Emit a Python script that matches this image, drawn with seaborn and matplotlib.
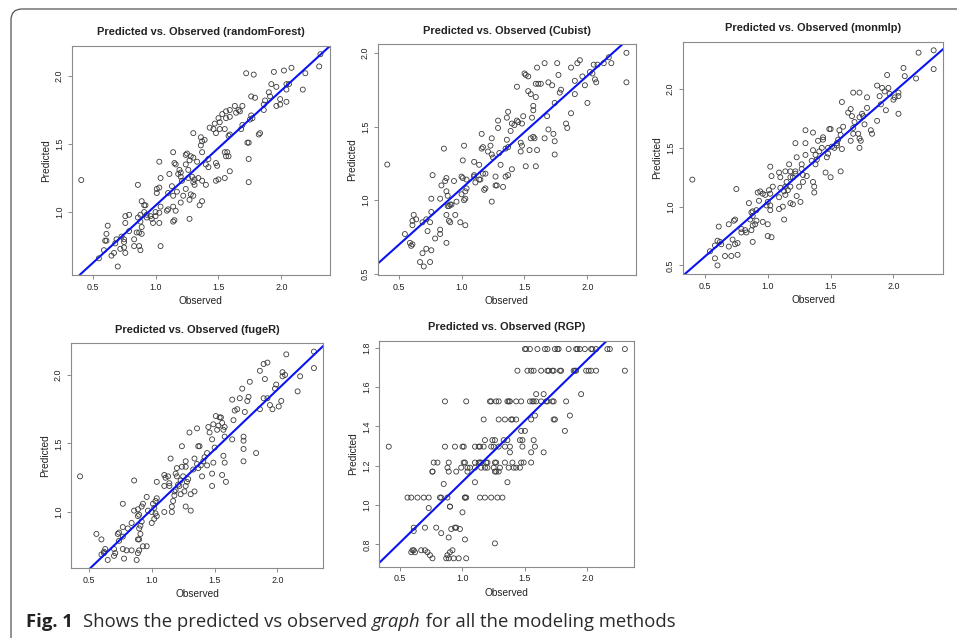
import matplotlib
matplotlib.use("Agg")
import matplotlib.pyplot as plt
from matplotlib.ticker import MultipleLocator, FormatStrFormatter
from matplotlib.patches import FancyBboxPatch
from matplotlib.transforms import IdentityTransform
import seaborn as sns

# =========================
# data
# =========================
obs_rf = [0.41, 2.30, 2.31, 2.19, 2.17, 2.08, 2.02, 1.94, 1.72, 1.78,
          2.04, 2.06, 2.04, 2.04, 1.99, 1.92, 1.96, 1.99, 1.96, 1.90,
          1.91, 1.87, 1.86, 1.86, 1.76, 1.79, 1.83, 1.82, 1.75, 1.77,
          1.76, 1.74, 1.73, 1.74, 1.74, 1.69, 1.68, 1.69, 1.66, 1.63,
          1.64, 1.67, 1.59, 1.56, 1.53, 1.50, 1.51, 1.59, 1.58, 1.56,
          1.59, 1.55, 1.51, 1.46, 1.43, 1.47, 1.48, 1.58, 1.56, 1.57,
          1.55, 1.59, 1.55, 1.48, 1.50, 1.48, 1.49, 1.42, 1.42, 1.40,
          1.37, 1.40, 1.37, 1.36, 1.36, 1.37, 1.39, 1.30, 1.33, 1.34,
          1.35, 1.37, 1.30, 1.28, 1.27, 1.25, 1.24, 1.24, 1.26, 1.26,
          1.29, 1.31, 1.30, 1.31, 1.28, 1.27, 1.30, 1.22, 1.24, 1.27,
          1.20, 1.21, 1.20, 1.20, 1.19, 1.15, 1.14, 1.16, 1.18, 1.17,
          1.14, 1.15, 1.14, 1.16, 1.11, 1.09, 1.10, 1.10, 1.14, 1.13,
          1.03, 1.04, 1.03, 1.01, 1.01, 1.04, 1.03, 1.03, 1.04, 1.00,
          1.00, 0.98, 0.96, 0.97, 0.93, 0.93, 0.91, 0.89, 0.91, 0.88,
          0.86, 0.88, 0.89, 0.89, 0.87, 0.85, 0.83, 0.87, 0.88, 0.83,
          0.79, 0.76, 0.76, 0.79, 0.75, 0.73, 0.75, 0.76, 0.75, 0.72,
          0.67, 0.65, 0.70, 0.69, 0.68, 0.62, 0.61, 0.61, 0.60, 0.59,
          0.55, 0.86, 0.92]
pred_rf = [1.235, 2.07, 2.16, 2.02, 1.90, 2.06, 2.04, 2.03, 2.02, 2.01,
           1.94, 1.94, 1.90, 1.81, 1.83, 1.94, 1.92, 1.79, 1.78, 1.88,
           1.85, 1.82, 1.79, 1.75, 1.85, 1.84, 1.58, 1.57, 1.68, 1.69,
           1.71, 1.51, 1.51, 1.39, 1.22, 1.64, 1.61, 1.78, 1.75, 1.78,
           1.73, 1.74, 1.70, 1.69, 1.72, 1.69, 1.66, 1.57, 1.56, 1.74,
           1.75, 1.61, 1.61, 1.61, 1.62, 1.65, 1.58, 1.41, 1.41, 1.44,
           1.44, 1.30, 1.25, 1.23, 1.24, 1.36, 1.34, 1.39, 1.33, 1.35,
           1.44, 1.20, 1.23, 1.49, 1.55, 1.52, 1.53, 1.58, 1.37, 1.25,
           1.05, 1.08, 1.40, 1.41, 1.38, 1.43, 1.42, 1.35, 1.31, 1.25,
           1.26, 1.24, 1.22, 1.20, 1.13, 1.09, 1.12, 1.12, 1.17, 0.95,
           1.07, 1.23, 1.26, 1.29, 1.31, 1.36, 1.44, 1.35, 1.28, 1.15,
           1.12, 0.94, 0.93, 1.01, 1.28, 1.01, 1.02, 1.14, 1.04, 1.19,
           1.37, 1.25, 1.18, 1.17, 1.14, 1.04, 0.995, 0.92, 0.75, 1.00,
           0.97, 0.92, 0.97, 0.95, 0.98, 0.96, 1.00, 1.08, 1.05, 0.98,
           1.20, 0.93, 0.89, 0.84, 0.85, 0.85, 0.80, 0.75, 0.72, 0.75,
           0.98, 0.97, 0.92, 0.86, 0.80, 0.82, 0.78, 0.70, 0.74, 0.73,
           0.70, 0.68, 0.60, 0.80, 0.77, 0.90, 0.84, 0.79, 0.79, 0.72,
           0.66, 0.96, 1.05]

obs_cub = [0.41, 2.31, 2.31, 2.19, 2.17, 2.13, 2.08, 2.05, 2.07, 2.06,
           2.04, 2.02, 2.00, 1.96, 1.98, 1.94, 1.92, 1.90, 1.90, 1.87,
           1.87, 1.83, 1.84, 1.79, 1.78, 1.77, 1.76, 1.74, 1.72, 1.74,
           1.73, 1.74, 1.69, 1.66, 1.68, 1.69, 1.66, 1.63, 1.61, 1.60,
           1.59, 1.55, 1.53, 1.59, 1.57, 1.57, 1.56, 1.58, 1.57, 1.55,
           1.54, 1.60, 1.59, 1.51, 1.50, 1.53, 1.44, 1.49, 1.48, 1.47,
           1.48, 1.47, 1.51, 1.45, 1.44, 1.39, 1.42, 1.40, 1.37, 1.36,
           1.36, 1.35, 1.37, 1.37, 1.35, 1.40, 1.29, 1.29, 1.30, 1.31,
           1.24, 1.23, 1.24, 1.25, 1.21, 1.27, 1.27, 1.28, 1.33, 1.24,
           1.16, 1.17, 1.16, 1.14, 1.17, 1.15, 1.14, 1.19, 1.18, 1.19,
           1.10, 1.10, 1.10, 1.11, 1.02, 1.01, 1.00, 1.01, 1.03, 1.02,
           1.03, 1.00, 1.04, 1.04, 0.99, 1.03, 0.96, 0.94, 0.88, 0.87,
           0.88, 0.89, 0.92, 0.91, 0.90, 0.89, 0.86, 0.84, 0.83, 0.88,
           0.90, 0.91, 0.95, 0.88, 0.83, 0.83, 0.79, 0.77, 0.76, 0.76,
           0.75, 0.73, 0.76, 0.72, 0.69, 0.67, 0.70, 0.75, 0.62, 0.61,
           0.61, 0.64, 0.55, 0.59, 0.60, 0.61, 0.69, 0.72]
pred_cub = [1.242, 2.00, 1.80, 1.93, 1.97, 1.93, 1.92, 1.92, 1.80, 1.82,
            1.86, 1.87, 1.66, 1.84, 1.78, 1.95, 1.93, 1.81, 1.72, 1.90,
            1.59, 1.52, 1.49, 1.75, 1.73, 1.85, 1.93, 1.66, 1.78, 1.40,
            1.45, 1.31, 1.80, 1.93, 1.57, 1.48, 1.42, 1.79, 1.79, 1.90,
            1.70, 1.72, 1.74, 1.79, 1.64, 1.61, 1.56, 1.42, 1.43, 1.42,
            1.34, 1.34, 1.23, 1.85, 1.86, 1.84, 1.77, 1.57, 1.52, 1.39,
            1.37, 1.33, 1.23, 1.53, 1.54, 1.47, 1.51, 1.52, 1.60, 1.56,
            1.41, 1.35, 1.36, 1.17, 1.16, 1.21, 1.54, 1.49, 1.32, 1.24,
            1.42, 1.37, 1.31, 1.29, 1.33, 1.16, 1.10, 1.10, 1.09, 0.99,
            1.45, 1.36, 1.35, 1.24, 1.18, 1.14, 1.14, 1.08, 1.07, 1.18,
            1.26, 1.17, 1.16, 1.12, 1.37, 1.27, 1.16, 1.15, 1.06, 1.00,
            1.01, 1.04, 1.14, 1.08, 0.85, 0.83, 0.99, 1.13, 1.15, 1.13,
            1.06, 1.03, 0.97, 0.97, 0.96, 0.96, 1.35, 1.10, 1.01, 0.90,
            0.86, 0.85, 0.90, 0.71, 0.80, 0.77, 0.74, 1.17, 1.01, 0.92,
            0.85, 0.79, 0.66, 0.67, 0.64, 0.58, 0.55, 0.58, 0.90, 0.86,
            0.83, 0.87, 0.77, 0.71, 0.69, 0.70, 0.85, 0.87]

obs_mlp = [0.40, 2.32, 2.32, 2.20, 2.18, 2.09, 2.08, 2.04, 2.04, 2.04,
           2.01, 2.00, 1.97, 1.96, 1.94, 1.93, 1.91, 1.90, 1.87, 1.87,
           1.95, 1.89, 1.83, 1.82, 1.79, 1.79, 1.76, 1.75, 1.73, 1.77,
           1.74, 1.73, 1.73, 1.72, 1.73, 1.68, 1.66, 1.67, 1.69, 1.68,
           1.68, 1.66, 1.64, 1.59, 1.60, 1.58, 1.57, 1.56, 1.58, 1.59,
           1.55, 1.55, 1.53, 1.50, 1.49, 1.51, 1.48, 1.47, 1.48, 1.46,
           1.50, 1.43, 1.44, 1.44, 1.40, 1.41, 1.38, 1.39, 1.38, 1.36,
           1.36, 1.35, 1.37, 1.37, 1.36, 1.31, 1.30, 1.30, 1.30, 1.27,
           1.28, 1.27, 1.28, 1.26, 1.25, 1.23, 1.22, 1.23, 1.22, 1.22,
           1.20, 1.17, 1.18, 1.18, 1.18, 1.20, 1.14, 1.15, 1.14, 1.13,
           1.14, 1.16, 1.18, 1.12, 1.09, 1.10, 1.10, 1.09, 1.09, 1.13,
           1.03, 1.02, 1.04, 1.02, 1.01, 1.02, 1.02, 1.00, 0.99, 0.98,
           0.96, 0.94, 0.93, 0.92, 0.96, 1.00, 1.00, 1.03, 0.91, 0.88,
           0.87, 0.88, 0.86, 0.90, 0.91, 0.88, 0.87, 0.85, 0.82, 0.83,
           0.88, 0.79, 0.79, 0.75, 0.74, 0.73, 0.69, 0.72, 0.74, 0.76,
           0.76, 0.71, 0.66, 0.69, 0.62, 0.63, 0.60, 0.61, 0.58, 0.58,
           0.60, 0.54]
pred_mlp = [1.23, 2.33, 2.17, 2.31, 2.09, 2.11, 2.18, 1.97, 1.79, 1.94,
            1.93, 1.91, 1.96, 2.01, 1.82, 1.98, 2.01, 1.87, 2.03, 1.73,
            2.12, 1.94, 1.62, 1.65, 1.93, 1.84, 1.77, 1.79, 1.76, 1.70,
            1.56, 1.50, 1.58, 1.62, 1.97, 1.97, 1.83, 1.77, 1.72, 1.67,
            1.62, 1.56, 1.80, 1.89, 1.68, 1.61, 1.65, 1.57, 1.30, 1.49,
            1.54, 1.52, 1.50, 1.66, 1.66, 1.51, 1.45, 1.42, 1.50, 1.29,
            1.25, 1.50, 1.59, 1.57, 1.56, 1.47, 1.44, 1.40, 1.36, 1.63,
            1.48, 1.39, 1.17, 1.12, 1.21, 1.26, 1.44, 1.65, 1.54, 1.36,
            1.27, 1.32, 1.21, 1.04, 1.17, 1.09, 1.54, 1.42, 1.30, 1.28,
            1.25, 1.36, 1.30, 1.25, 1.17, 1.02, 1.30, 1.21, 1.17, 1.13,
            1.10, 1.14, 1.03, 1.00, 1.29, 1.25, 1.16, 1.08, 0.98, 0.89,
            1.26, 1.34, 1.17, 1.11, 1.14, 1.01, 0.97, 1.04, 1.01, 1.10,
            1.11, 1.13, 1.05, 1.12, 0.87, 0.85, 0.75, 0.74, 0.97, 0.96,
            0.95, 0.92, 0.89, 0.85, 0.88, 0.84, 0.80, 1.03, 0.80, 0.78,
            0.70, 0.78, 0.81, 1.15, 0.89, 0.88, 0.85, 0.72, 0.68, 0.69,
            0.59, 0.58, 0.58, 0.66, 0.70, 0.68, 0.71, 0.83, 0.67, 0.56,
            0.50, 0.62]

obs_fug = [0.43, 2.29, 2.29, 2.18, 2.16, 2.07, 2.06, 2.04, 2.04, 2.01,
           2.03, 1.99, 1.98, 1.96, 1.94, 1.92, 1.90, 1.92, 1.89, 1.86,
           1.89, 1.86, 1.83, 1.78, 1.77, 1.76, 1.74, 1.73, 1.73, 1.73,
           1.73, 1.72, 1.70, 1.68, 1.66, 1.65, 1.64, 1.64, 1.58, 1.58,
           1.58, 1.59, 1.57, 1.56, 1.57, 1.56, 1.55, 1.54, 1.53, 1.52,
           1.51, 1.49, 1.48, 1.49, 1.48, 1.48, 1.50, 1.45, 1.46, 1.44,
           1.42, 1.44, 1.41, 1.39, 1.40, 1.37, 1.36, 1.38, 1.37, 1.34,
           1.36, 1.30, 1.33, 1.34, 1.31, 1.29, 1.28, 1.24, 1.27, 1.27,
           1.27, 1.27, 1.24, 1.23, 1.26, 1.25, 1.31, 1.23, 1.20, 1.21,
           1.22, 1.19, 1.18, 1.18, 1.20, 1.19, 1.16, 1.17, 1.16, 1.15,
           1.14, 1.14, 1.13, 1.10, 1.11, 1.10, 1.10, 1.04, 1.04, 1.03,
           1.02, 1.03, 1.04, 1.02, 1.00, 1.01, 1.00, 0.96, 0.97, 0.93,
           0.92, 0.89, 0.90, 0.86, 0.86, 0.89, 0.92, 0.91, 0.90, 0.91,
           0.90, 0.89, 0.96, 0.93, 0.90, 0.89, 0.88, 0.84, 0.84, 0.81,
           0.80, 0.77, 0.77, 0.77, 0.73, 0.74, 0.77, 0.78, 0.74, 0.70,
           0.71, 0.70, 0.65, 0.63, 0.62, 0.62, 0.60, 0.60, 0.56]
pred_fug = [1.26, 2.17, 2.05, 1.99, 1.88, 2.15, 2.00, 2.02, 1.99, 1.77,
            1.81, 1.93, 1.90, 1.75, 1.78, 1.83, 1.97, 2.09, 2.08, 2.03,
            1.83, 1.75, 1.43, 1.95, 1.84, 1.81, 1.73, 1.55, 1.52, 1.46,
            1.37, 1.90, 1.83, 1.75, 1.74, 1.67, 1.82, 1.53, 1.62, 1.55,
            1.36, 1.22, 1.41, 1.27, 1.60, 1.65, 1.69, 1.69, 1.63, 1.60,
            1.70, 1.64, 1.53, 1.36, 1.28, 1.19, 1.47, 1.62, 1.58, 1.43,
            1.40, 1.34, 1.37, 1.34, 1.26, 1.32, 1.35, 1.48, 1.48, 1.39,
            1.61, 1.58, 1.31, 1.15, 1.13, 1.24, 1.22, 1.48, 1.37, 1.33,
            1.19, 1.04, 1.33, 1.13, 1.15, 1.26, 1.01, 1.23, 1.26, 1.20,
            1.19, 1.16, 1.15, 1.12, 1.32, 1.28, 1.00, 1.08, 1.04, 1.39,
            1.21, 1.19, 1.26, 1.27, 1.25, 1.00, 1.19, 1.22, 1.10, 1.08,
            1.03, 0.99, 0.97, 0.95, 0.92, 1.06, 1.00, 1.11, 1.01, 1.06,
            1.04, 1.02, 0.98, 1.23, 1.01, 0.97, 0.93, 0.90, 0.88, 0.84,
            0.80, 0.80, 0.75, 0.75, 0.72, 0.70, 0.65, 0.92, 0.72, 0.88,
            0.72, 1.06, 0.82, 0.89, 0.84, 0.85, 0.73, 0.66, 0.79, 0.73,
            0.70, 0.68, 0.65, 0.73, 0.71, 0.70, 0.69, 0.80, 0.84]

obs_rgp = [1.50, 1.51, 1.54, 1.60, 1.66, 1.68, 1.74, 1.76, 1.77, 1.85,
           1.91, 1.92, 1.94, 1.98, 2.03, 2.04, 2.07, 2.16, 2.18, 2.30,
           1.44, 1.52, 1.55, 1.57, 1.63, 1.68, 1.69, 1.72, 1.73, 1.78,
           1.79, 1.89, 1.90, 1.91, 1.99, 2.01, 2.03, 2.07, 2.30,
           1.59, 1.65, 1.95,
           0.86, 1.03, 1.22, 1.23, 1.27, 1.29, 1.36, 1.37, 1.38, 1.43,
           1.47, 1.54, 1.56, 1.57, 1.59, 1.63, 1.67, 1.68, 1.72, 1.73, 1.83,
           1.58, 1.86,
           1.17, 1.29, 1.34, 1.39, 1.40, 1.43, 1.55, 1.73, 1.74,
           1.47, 1.50, 1.82,
           1.18, 1.24, 1.26, 1.33, 1.36, 1.46, 1.48, 1.57,
           0.41, 0.86, 0.94, 1.00, 1.01, 1.10, 1.13, 1.14, 1.17, 1.23,
           1.25, 1.29, 1.34, 1.38, 1.48, 1.58,
           1.38, 1.55, 1.65,
           0.77, 0.80, 0.89, 1.01, 1.02, 1.10, 1.13, 1.14, 1.15, 1.19,
           1.20, 1.26, 1.27, 1.34, 1.40, 1.47, 1.49, 1.55,
           0.88, 0.99, 1.04, 1.06, 1.10, 1.15, 1.18, 1.20, 1.25, 1.30,
           1.37, 1.41, 1.43, 1.46,
           0.76, 0.76, 0.89, 0.95, 1.04, 1.26, 1.27, 1.29,
           1.10, 1.36, 0.85,
           0.56, 0.59, 0.64, 0.69, 0.73, 0.82, 0.83, 0.88, 1.02, 1.02,
           1.03, 1.14, 1.18, 1.23, 1.28, 1.32,
           0.90, 0.90, 0.73, 1.00,
           0.61, 0.70, 0.79, 0.94, 0.95, 0.91, 0.98, 0.61, 0.83, 0.89,
           1.02, 1.26,
           0.60, 0.61, 0.67, 0.70, 0.92, 0.59, 0.62, 0.72, 0.90,
           0.74, 0.88, 0.76, 0.87, 0.89, 0.93, 0.97, 1.03]
pred_rgp = [1.793, 1.793, 1.793, 1.793, 1.793, 1.793, 1.793, 1.793, 1.793, 1.793,
            1.793, 1.793, 1.793, 1.793, 1.793, 1.793, 1.793, 1.793, 1.793, 1.793,
            1.683, 1.683, 1.683, 1.683, 1.683, 1.683, 1.683, 1.683, 1.683, 1.683,
            1.683, 1.683, 1.683, 1.683, 1.683, 1.683, 1.683, 1.683, 1.683,
            1.564, 1.564, 1.564,
            1.527, 1.527, 1.527, 1.527, 1.527, 1.527, 1.527, 1.527, 1.527, 1.527,
            1.527, 1.527, 1.527, 1.527, 1.527, 1.527, 1.527, 1.527, 1.527, 1.527, 1.527,
            1.455, 1.455,
            1.435, 1.435, 1.435, 1.435, 1.435, 1.435, 1.435, 1.435, 1.435,
            1.377, 1.377, 1.377,
            1.33, 1.33, 1.33, 1.33, 1.33, 1.33, 1.33, 1.33,
            1.297, 1.297, 1.297, 1.297, 1.297, 1.297, 1.297, 1.297, 1.297, 1.297,
            1.297, 1.297, 1.297, 1.297, 1.297, 1.297,
            1.268, 1.268, 1.268,
            1.216, 1.216, 1.216, 1.216, 1.216, 1.216, 1.216, 1.216, 1.216, 1.216,
            1.216, 1.216, 1.216, 1.216, 1.216, 1.216, 1.216, 1.216,
            1.19, 1.19, 1.19, 1.19, 1.19, 1.19, 1.19, 1.19, 1.19, 1.19,
            1.19, 1.19, 1.19, 1.19,
            1.17, 1.17, 1.17, 1.17, 1.17, 1.17, 1.17, 1.17,
            1.116, 1.116, 1.107,
            1.038, 1.038, 1.038, 1.038, 1.038, 1.038, 1.038, 1.038, 1.038, 1.038,
            1.038, 1.038, 1.038, 1.038, 1.038, 1.038,
            0.992, 0.992, 0.985, 0.963,
            0.885, 0.885, 0.885, 0.885, 0.885, 0.878, 0.878, 0.868, 0.857, 0.835,
            0.825, 0.805,
            0.77, 0.77, 0.77, 0.77, 0.77, 0.76, 0.76, 0.76, 0.76,
            0.745, 0.745, 0.729, 0.729, 0.729, 0.729, 0.729, 0.729]

# abline(lm(pred ~ obs)): intercept, slope
titles = ["randomForest", "Cubist", "monmlp", "fugeR", "RGP"]
fit_intercept = [0.202, 0.313, 0.110, 0.143, 0.499]
fit_slope = [0.846, 0.766, 0.931, 0.875, 0.620]
y_steps = [0.5, 0.5, 0.5, 0.5, 0.2]

observed = [obs_rf, obs_cub, obs_mlp, obs_fug, obs_rgp]
predicted = [pred_rf, pred_cub, pred_mlp, pred_fug, pred_rgp]

# axes boxes in pixels (left, top, right, bottom) of a 957x638 canvas
W, H = 957, 638
boxes = [(71.7, 45.7, 330.0, 275.0),
         (377.7, 44.3, 636.0, 275.0),
         (682.7, 41.7, 943.3, 274.0),
         (70.7, 343.3, 323.3, 568.3),
         (379.3, 340.7, 634.3, 566.7)]

sns.set_style("ticks")
plt.rcParams["font.family"] = ["Liberation Sans", "DejaVu Sans"]

fig = plt.figure(figsize=(W / 100, H / 100), dpi=100)

for i in range(5):
    obs = observed[i]
    pred = predicted[i]
    l, t, r, b = boxes[i]
    ax = fig.add_axes([l / W, 1 - b / H, (r - l) / W, (b - t) / H])

    sns.scatterplot(x=obs, y=pred, ax=ax, marker="o", s=13,
                    facecolors="none", edgecolor="#3a3a3a", linewidth=0.6)
    ax.axline((1.0, fit_intercept[i] + fit_slope[i]), slope=fit_slope[i],
              color="#0a14f0", lw=1.5)

    # R style axis range: data range + 4% each side
    xr = max(obs) - min(obs)
    yr = max(pred) - min(pred)
    ax.set_xlim(min(obs) - 0.04 * xr, max(obs) + 0.04 * xr)
    ax.set_ylim(min(pred) - 0.04 * yr, max(pred) + 0.04 * yr)

    ax.xaxis.set_major_locator(MultipleLocator(0.5))
    ax.yaxis.set_major_locator(MultipleLocator(y_steps[i]))
    ax.xaxis.set_major_formatter(FormatStrFormatter("%.1f"))
    ax.yaxis.set_major_formatter(FormatStrFormatter("%.1f"))

    for sp in ax.spines.values():
        sp.set_visible(True)
        sp.set_color("#8a8a8a")
        sp.set_linewidth(0.8)
    ax.tick_params(axis="both", length=2.6, width=0.7, color="#8a8a8a",
                   labelsize=6.4, labelcolor="#222222", pad=3)
    ax.tick_params(axis="y", labelrotation=90)
    for lab in ax.get_yticklabels():
        lab.set_va("center")

    ax.set_xlabel("Observed", fontsize=7.3, color="#222222", labelpad=3)
    ax.set_ylabel("Predicted", fontsize=7.3, color="#222222", labelpad=3)
    ax.set_title(f"Predicted vs. Observed ({titles[i]})", fontsize=7.9,
                 fontweight="bold", color="#222222", pad=7.5)

# frame of the figure panel (only top and left sides are in view)
frame = FancyBboxPatch((11, -60), 1100, 629 + 60,
                       boxstyle="round,pad=0,rounding_size=11",
                       transform=IdentityTransform(), fill=False,
                       edgecolor="#555555", linewidth=0.9)
fig.add_artist(frame)

# caption, pieced together
renderer = fig.canvas.get_renderer()
cap_font = ["Open Sans", "DejaVu Sans"]
cap_size = 13.3
base_y = 1 - 627 / H
t = fig.text(26 / W, base_y, "Fig. 1", fontsize=cap_size, fontweight="bold",
             family=cap_font, va="baseline", color="#222222")
x_px = t.get_window_extent(renderer).x1 + 10
parts = [("Shows the predicted vs observed ", "normal"),
         ("graph", "italic"),
         (" for all the modeling methods", "normal")]
for txt, style in parts:
    t = fig.text(x_px / W, base_y, txt, fontsize=cap_size, style=style,
                 family=cap_font, va="baseline", color="#2a2a2a")
    x_px = t.get_window_extent(renderer).x1

fig.savefig("out.png", dpi=100)
